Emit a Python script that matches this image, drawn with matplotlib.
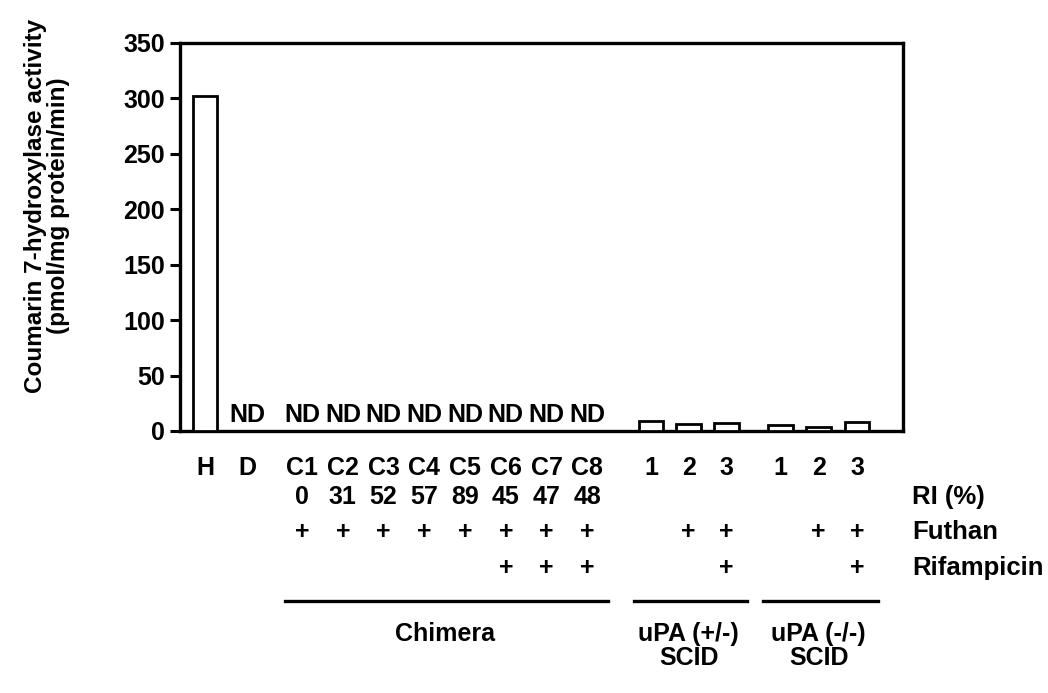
import numpy as np
import matplotlib
matplotlib.use("Agg")
import matplotlib.pyplot as plt
from matplotlib.transforms import blended_transform_factory

plt.rcParams['font.family'] = ['Liberation Sans', 'DejaVu Sans']
plt.rcParams['font.weight'] = 'bold'

# ---- data ----
categories = ['H', 'D', 'C1', 'C2', 'C3', 'C4', 'C5', 'C6', 'C7', 'C8',
              '1', '2', '3', '1', '2', '3']
activity = [302, np.nan, np.nan, np.nan, np.nan, np.nan, np.nan, np.nan, np.nan, np.nan,
            9, 6, 7, 5, 4, 8]          # NaN = not detected (ND)
ri_percent = ['', '', '0', '31', '52', '57', '89', '45', '47', '48',
              '', '', '', '', '', '']
futhan = ['', '', '+', '+', '+', '+', '+', '+', '+', '+',
          '', '+', '+', '', '+', '+']
rifampicin = ['', '', '', '', '', '', '', '+', '+', '+',
              '', '', '+', '', '', '+']
group_names = ['', 'Chimera', 'uPA (+/-)\nSCID', 'uPA (-/-)\nSCID']
group_sizes = [2, 8, 3, 3]
row_names = ['RI (%)', 'Futhan', 'Rifampicin']
yticks = [0, 50, 100, 150, 200, 250, 300, 350]

# ---- layout (positions) ----
group_starts = [0.0, 2.43, 11.15, 14.38]
group_steps = [1.05, 1.018, 0.94, 0.96]
x = []
group_members = []
for start, step, n in zip(group_starts, group_steps, group_sizes):
    xs = [start + i * step for i in range(n)]
    group_members.append(xs)
    x.extend(xs)
x = np.array(x)

W, H = 1048, 693
fig = plt.figure(figsize=(W / 100, H / 100), dpi=100)
ax = fig.add_axes([180 / W, 1 - 431 / H, (903 - 180) / W, (431 - 43) / H])

vals = np.array(activity, dtype=float)
det = ~np.isnan(vals)
ax.bar(x[det], vals[det], width=0.62, facecolor='white', edgecolor='black',
       linewidth=2.0, zorder=3)
for xi, v in zip(x, vals):
    if np.isnan(v):
        ax.annotate('ND', (xi, 0), xytext=(0, 4), textcoords='offset pixels',
                    ha='center', va='bottom', fontsize=18, fontweight='bold')

ax.set_xlim(-0.625, 17.45)
ax.set_ylim(0, 350)
ax.set_yticks(yticks)
ax.set_xticks(x)
ax.set_xticklabels(categories)
for lab in ax.get_xticklabels() + ax.get_yticklabels():
    lab.set_fontsize(18)
    lab.set_fontweight('bold')
ax.tick_params(axis='x', length=0, pad=18)
ax.tick_params(axis='y', length=7, width=2.2, pad=4, direction='out')
for s in ax.spines.values():
    s.set_linewidth(2.4)

ax.set_ylabel('Coumarin 7-hydroxylase activity\n(pmol/mg protein/min)',
              fontsize=17.5, fontweight='bold', linespacing=1.0)
ax.yaxis.set_label_coords((70 - 180) / (903 - 180), 0.58)

# ---- rows below the axis ----
tr = blended_transform_factory(ax.transData, fig.transFigure)
def fy(py):
    return 1 - py / H

row_y = [497, 532, 568]
for rowvals, py in zip([ri_percent, futhan, rifampicin], row_y):
    for xi, t in zip(x, rowvals):
        if t:
            ax.text(xi, fy(py), t, transform=tr, ha='center', va='center',
                    fontsize=18, fontweight='bold', clip_on=False)
for name, py in zip(row_names, row_y):
    ax.text(17.68, fy(py), name, transform=tr, ha='left', va='center',
            fontsize=18.5, fontweight='bold', clip_on=False)

line_y = 601
for name, xs in zip(group_names, group_members):
    if not name:
        continue
    ax.plot([xs[0] - 0.42, xs[-1] + 0.52], [fy(line_y), fy(line_y)], transform=tr,
            color='black', linewidth=2.4, clip_on=False)
    ax.text(np.mean(xs), fy(line_y + 21), name, transform=tr, ha='center', va='top',
            fontsize=18, fontweight='bold', linespacing=1.0, clip_on=False)

fig.savefig('out.png', dpi=100)
